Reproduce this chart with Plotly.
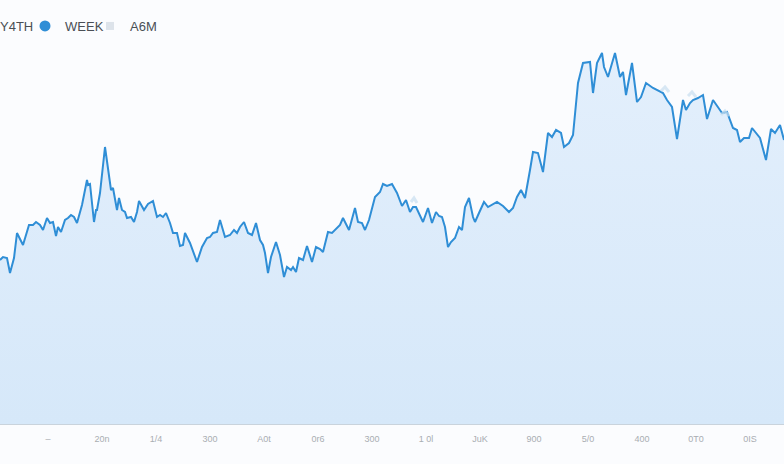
import plotly.graph_objects as go

# ---- data ----
days = [0, 3, 7, 10, 14, 17, 19, 23, 29, 33, 36, 40, 43, 47, 50, 53, 56, 58, 61, 65,
        68, 71, 74, 77, 82, 87, 88, 90, 94, 96, 97, 100, 105, 108, 111, 113, 117, 119, 122, 125,
        127, 131, 134, 137, 139, 144, 148, 153, 157, 160, 163, 166, 170, 173, 177, 180, 183, 185, 190, 197,
        202, 207, 210, 213, 217, 220, 225, 230, 234, 237, 240, 244, 248, 252, 256, 260, 263, 265, 268, 271,
        276, 280, 284, 287, 291, 293, 296, 299, 303, 307, 312, 316, 320, 323, 328, 332, 337, 340, 343, 349,
        355, 358, 362, 365, 369, 375, 380, 383, 387, 392, 397, 402, 406, 410, 413, 416, 423, 428, 432, 436,
        439, 442, 445, 448, 451, 455, 459, 462, 465, 469, 473, 475, 479, 484, 488, 492, 497, 503, 509, 513,
        517, 521, 525, 530, 533, 538, 543, 548, 552, 556, 561, 564, 569, 573, 575, 578, 583, 590, 593, 597,
        600, 602, 604, 608, 615, 618, 620, 623, 626, 632, 637, 641, 646, 653, 663, 667, 672, 677, 683, 686,
        690, 693, 698, 703, 707, 713, 718, 722, 727, 730, 733, 737, 740, 744, 749, 752, 760, 766, 771, 775,
        780, 784]
week = [164, 167, 166, 151, 166, 191, 187, 179, 199, 199, 202, 199, 194, 206, 201, 202, 188, 197, 192, 204,
        206, 209, 207, 201, 219, 244, 239, 240, 202, 214, 214, 231, 277, 257, 234, 236, 214, 226, 214, 212,
        206, 207, 202, 212, 223, 214, 220, 223, 207, 209, 207, 211, 201, 191, 191, 178, 179, 191, 181, 162,
        177, 186, 187, 191, 192, 204, 187, 189, 194, 191, 197, 202, 191, 189, 201, 184, 179, 171, 151, 167,
        182, 169, 147, 157, 154, 157, 152, 166, 164, 178, 162, 177, 175, 172, 192, 191, 196, 199, 206, 194,
        216, 202, 201, 194, 204, 227, 232, 240, 238, 240, 231, 218, 224, 212, 217, 217, 202, 216, 201, 212,
        208, 207, 197, 177, 182, 186, 197, 194, 217, 226, 207, 202, 211, 222, 217, 219, 222, 218, 212, 216,
        227, 234, 226, 254, 272, 271, 252, 291, 287, 294, 291, 277, 281, 289, 311, 341, 361, 362, 331, 361,
        367, 371, 357, 347, 371, 357, 347, 352, 329, 361, 322, 327, 341, 336, 331, 324, 317, 285, 324, 314,
        321, 324, 326, 329, 305, 324, 317, 311, 312, 304, 296, 294, 282, 286, 286, 296, 286, 264, 295, 291,
        299, 284]

a6m_days = [411, 414, 417, None, 661, 665, 669, None, 688, 692, 696, None, 721, 725, 729]
a6m = [222, 226, 221, None, 333, 337, 332, None, 328, 332, 327, None, 309, 313, 308]

tick_days = [-6, 48, 102, 156, 210, 264, 318, 372, 426, 480, 534, 588, 642, 696, 750]
tick_labels = ["|", "–", "20n", "1/4", "300", "A0t", "0r6", "300", "1 0l", "JuK", "900",
               "5/0", "400", "0T0", "0IS"]

series_names = ["Y4TH", "WEEK", "A6M"]
legend_colors = ["#2f8fd8", "#2f8ed6", "#dde3ea"]
legend_symbols = ["circle", "circle", "square"]
legend_sizes = [11, 11, 8]

# ---- figure ----
fig = go.Figure()

fig.add_trace(go.Scatter(
    x=days, y=week, name="WEEK", mode="lines", legendgroup="WEEK", showlegend=False,
    line=dict(color="#2f8ed6", width=2),
    fill="tozeroy",
    fillgradient=dict(type="vertical",
                      colorscale=[[0, "#d6e8f9"], [1, "#e3effc"]]),
))

fig.add_trace(go.Scatter(
    x=a6m_days, y=a6m, name="A6M", mode="lines", legendgroup="A6M", showlegend=False,
    line=dict(color="rgba(200,222,240,0.7)", width=3),
    connectgaps=False,
))

# legend entries
for nm, col, sym, sz in zip(series_names, legend_colors, legend_symbols, legend_sizes):
    fig.add_trace(go.Scatter(
        x=[None], y=[None], name=nm, mode="markers", legendgroup=nm,
        marker=dict(color=col, size=sz, symbol=sym),
        hoverinfo="skip"))

# spacer entry so the last real legend label is not clipped
fig.add_trace(go.Scatter(
    x=[None], y=[None], name=" ", mode="markers", legendgroup="spacer",
    marker=dict(color="rgba(0,0,0,0)", size=1), hoverinfo="skip"))

fig.update_layout(
    width=784, height=464,
    margin=dict(l=0, r=0, t=24, b=40, autoexpand=False),
    paper_bgcolor="#fbfcfe",
    plot_bgcolor="#fbfcfe",
    font=dict(family="Liberation Sans, Arial, sans-serif", color="#555"),
    showlegend=True,
    legend=dict(orientation="h", x=-0.051, xanchor="left", y=0.995, yanchor="middle",
                font=dict(size=13, color="#4a4f55"), bgcolor="rgba(0,0,0,0)",
                entrywidth=20, entrywidthmode="pixels"),
    xaxis=dict(range=[0, 784], showgrid=False, zeroline=False,
               showline=True, linecolor="#c9d3dc", linewidth=1,
               tickmode="array", tickvals=tick_days, ticktext=tick_labels,
               tickfont=dict(size=9, color="#a9adb2"), ticks="",
               ticklabelstandoff=6),
    yaxis=dict(range=[0, 400], showgrid=False, zeroline=False,
               showticklabels=False, showline=False),
)

fig.write_html("out.html", config={"displayModeBar": False},
               post_script="document.body.style.margin='0px';")
